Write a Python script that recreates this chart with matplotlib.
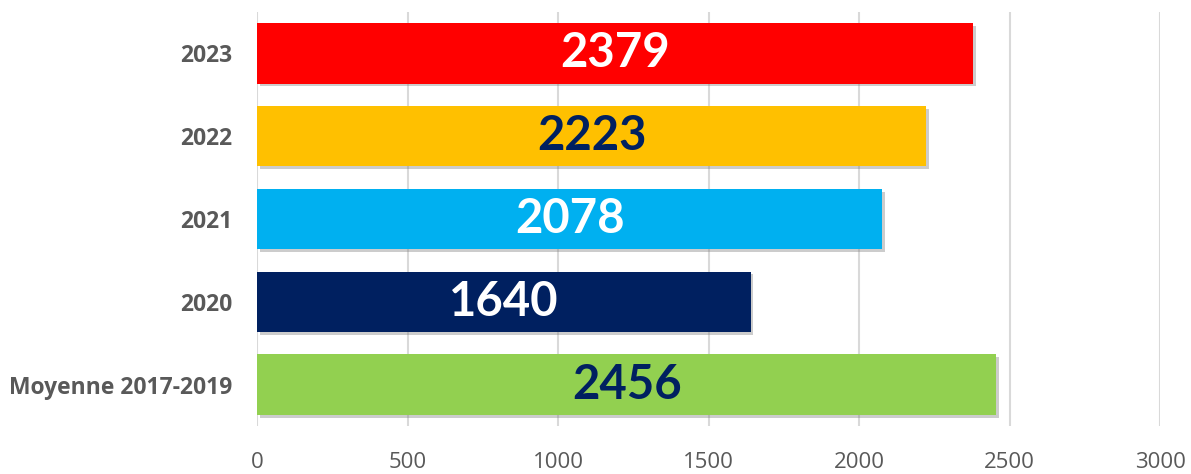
import matplotlib.pyplot as plt
import matplotlib.patheffects as pe

categories = ['Moyenne 2017-2019', '2020', '2021', '2022', '2023']
values = [2456, 1640, 2078, 2223, 2379]
bar_colors = ['#92D050', '#002060', '#00B0F0', '#FFC000', '#FF0000']
text_colors = ['#002060', 'white', 'white', '#002060', 'white']

plt.rcParams['font.family'] = ['Open Sans', 'DejaVu Sans']

fig = plt.figure(figsize=(11.91, 4.74), dpi=100)
ax = fig.add_axes([257 / 1191, 1 - 426 / 474, 903 / 1191, 414 / 474])

bars = ax.barh(range(len(categories)), values, height=0.73, color=bar_colors, zorder=3)
for b in bars:
    b.set_path_effects([pe.SimplePatchShadow(offset=(2, -2), shadow_rgbFace='#808080', alpha=0.4),
                        pe.Normal()])

for i, (v, tc) in enumerate(zip(values, text_colors)):
    ax.text(v / 2, i, str(v), ha='center', va='center', color=tc,
            fontsize=34, fontweight='bold', family=['Lato', 'DejaVu Sans'], zorder=4)

ax.set_xlim(0, 3000)
ax.set_ylim(-0.5, 4.5)
ax.set_xticks(range(0, 3001, 500))
ax.set_yticks(range(len(categories)))
ax.set_yticklabels(categories, fontsize=16.5, fontweight='bold', color='#595959')
ax.tick_params(axis='x', labelsize=16, labelcolor='#595959', length=0, pad=19)
ax.tick_params(axis='y', length=0, pad=18)
ax.grid(axis='x', color='#D9D9D9', linewidth=1.5, zorder=0)
for s in ax.spines.values():
    s.set_visible(False)

fig.savefig('out.png', dpi=100)
